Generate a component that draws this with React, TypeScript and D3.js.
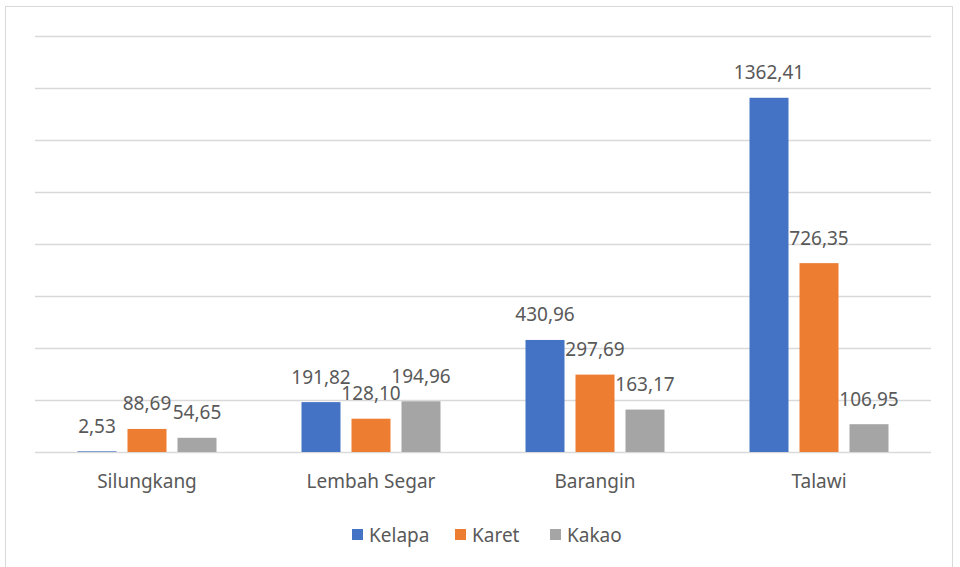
import React from "react";
import * as d3 from "d3";

const categories = ["Silungkang", "Lembah Segar", "Barangin", "Talawi"];
const seriesNames = ["Kelapa", "Karet", "Kakao"];
const kelapa = [2.53, 191.82, 430.96, 1362.41];
const karet = [88.69, 128.1, 297.69, 726.35];
const kakao = [54.65, 194.96, 163.17, 106.95];
const yTicks = [0, 200, 400, 600, 800, 1000, 1200, 1400, 1600];
const colors = ["#4472C4", "#ED7D31", "#A5A5A5"];

const W = 960;
const H = 567;
const FONT = "'Noto Sans', 'Open Sans', sans-serif";

const fmt = (v: number) => v.toFixed(2).replace(".", ",");

export default function App() {
  const values = [kelapa, karet, kakao];
  const x = d3.scaleBand<string>().domain(categories).range([35, 931]);
  const xi = d3
    .scaleBand<string>()
    .domain(seriesNames)
    .range([0, x.bandwidth()])
    .paddingInner(0.22)
    .paddingOuter(0.85);
  const y = d3.scaleLinear().domain([0, 1600]).range([452, 36]);

  const legendX = [352, 455, 550];

  return (
    <svg
      width={W}
      height={H}
      style={{ position: "absolute", left: 0, top: 0, background: "#fff" }}
      fontFamily={FONT}
    >
      <rect x={0} y={0} width={W} height={H} fill="#fff" />
      <rect x={5.5} y={6.5} width={947} height={600} fill="none" stroke="#d9d9d9" strokeWidth={1} />
      {yTicks.map((t) => (
        <line
          key={t}
          x1={35}
          x2={931}
          y1={Math.round(y(t)) + 0.5}
          y2={Math.round(y(t)) + 0.5}
          stroke="#d9d9d9"
          strokeWidth={1.5}
        />
      ))}
      {categories.map((c, ci) => (
        <g key={c}>
          {seriesNames.map((s, si) => {
            const v = values[si][ci];
            const bx = (x(c) as number) + (xi(s) as number);
            const by = y(v);
            return (
              <g key={s}>
                <rect x={bx} y={by} width={xi.bandwidth()} height={y(0) - by} fill={colors[si]} />
                <text
                  x={bx + xi.bandwidth() / 2}
                  y={by - 18.5}
                  textAnchor="middle"
                  fontSize={19}
                  fill="#595959"
                >
                  {fmt(v)}
                </text>
              </g>
            );
          })}
          <text
            x={(x(c) as number) + x.bandwidth() / 2}
            y={488}
            textAnchor="middle"
            fontSize={19}
            fill="#595959"
          >
            {c}
          </text>
        </g>
      ))}
      {seriesNames.map((s, si) => (
        <g key={s}>
          <rect x={legendX[si]} y={529} width={11} height={11} fill={colors[si]} />
          <text x={legendX[si] + 17} y={541.5} fontSize={19} fill="#595959">
            {s}
          </text>
        </g>
      ))}
    </svg>
  );
}
